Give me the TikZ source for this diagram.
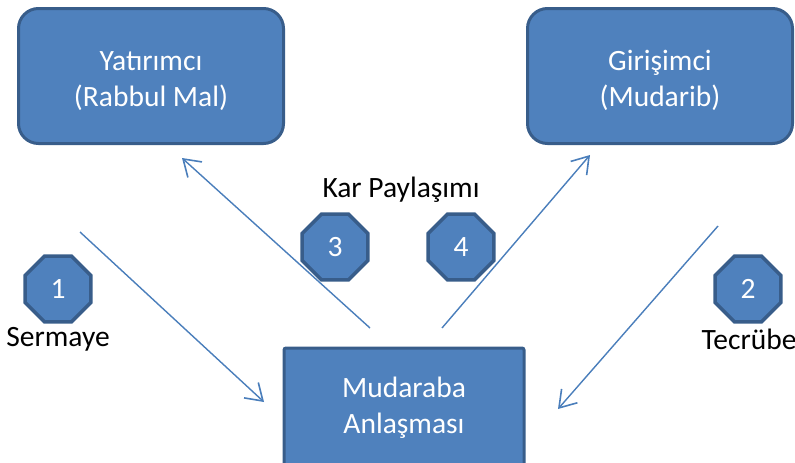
\documentclass[tikz,border=0pt]{standalone}
\usepackage{fontspec}
\setmainfont{Carlito}
\usetikzlibrary{shapes.geometric,arrows.meta}
\definecolor{boxblue}{HTML}{4F81BD}
\definecolor{boxedge}{HTML}{385D8A}
\definecolor{arrowblue}{HTML}{4A7EBB}

\begin{document}
\begin{tikzpicture}[x=1pt, y=-1pt,
        party/.style={draw=boxedge, fill=boxblue, line width=3pt, rounded corners=20pt, text=white,
                      minimum width=265pt, minimum height=135pt, align=center, font=\fontsize{29.5}{36}\selectfont},
        deal/.style={draw=boxedge, fill=boxblue, line width=3pt, rounded corners=2pt, text=white,
                     minimum width=240pt, minimum height=120pt, align=center, font=\fontsize{29.5}{36}\selectfont},
        stepnum/.style={regular polygon, regular polygon sides=8, draw=boxedge, fill=boxblue, line width=3.5pt,
                        minimum size=71pt, inner sep=0pt, text=white, font=\fontsize{29.5}{30}\selectfont},
        caption/.style={font=\fontsize{29.5}{30}\selectfont},
        flow/.style={draw=arrowblue, line width=1.4pt, -{Straight Barb[length=16pt, width=21pt, line width=1.6pt]}}]
        \useasboundingbox (0,0) rectangle (795,463);
        \node[party] (investor) at (151,76) {\rule{0pt}{30pt}Yatırımcı\\(Rabbul Mal)};
        \node[party] (entrepreneur) at (660,76) {\rule{0pt}{30pt}Girişimci\\(Mudarib)};
        \node[deal] (contract) at (404,408) {Mudaraba\\Anlaşması};
        \node[stepnum] (n1) at (58,289) {1};
        \node[stepnum] (n2) at (748,289) {2};
        \node[stepnum] (n3) at (335,247) {3};
        \node[stepnum] (n4) at (461,247) {4};
        \node[caption] (capital) at (58,339) {Sermaye};
        \node[caption] (skill) at (749,339) {Tecrübe};
        \node[caption] (profit) at (401,190) {Kar Paylaşımı};
        \coordinate (s1) at (80,232);
        \coordinate (e1) at (264,402);
        \coordinate (s2) at (718,226);
        \coordinate (e2) at (558,409);
        \coordinate (s3) at (370,328);
        \coordinate (e3) at (182,158);
        \coordinate (s4) at (442,328);
        \coordinate (e4) at (590,155);
        \draw[flow] (s1) -- (e1);
        \draw[flow] (s2) -- (e2);
        \draw[flow] (s3) -- (e3);
        \draw[flow] (s4) -- (e4);
\end{tikzpicture}
\end{document}
